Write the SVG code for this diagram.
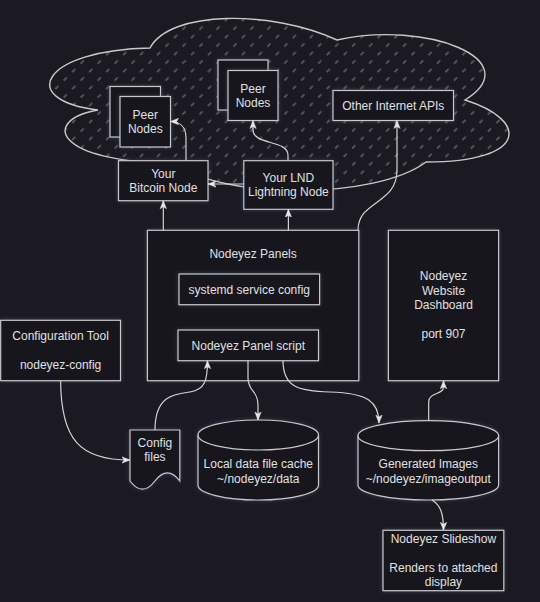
<svg xmlns="http://www.w3.org/2000/svg" width="540" height="602" viewBox="0 0 540 602">
<defs>
<style>
.bg{fill:#1b1922}
.n{fill:#18171c;stroke:#c8c8c8;stroke-width:1.2;filter:url(#glow)}
.t{font-family:"Liberation Sans",Arial,Helvetica,sans-serif;font-size:12px;fill:#e0e0e0;text-anchor:middle}
.e{fill:none;stroke:#d2d2d2;stroke-width:1.2;marker-end:url(#arr)}
.cloud{fill:url(#hatch);stroke:#c8c8c8;stroke-width:1.4}
</style>
<pattern id="hatch" patternUnits="userSpaceOnUse" width="12" height="12" patternTransform="rotate(-45)">
<rect width="12" height="12" fill="#1b1922"/>
<line x1="0" y1="6" x2="4.5" y2="6" stroke="#8a8a8a" stroke-width="1"/>
</pattern>
<marker id="arr" viewBox="0 0 10 10" refX="10" refY="5" markerWidth="8" markerHeight="8" markerUnits="userSpaceOnUse" orient="auto">
<path d="M0,1 L10,5 L0,9 L2.5,5 Z" fill="#e6e6e6" stroke="#e6e6e6" stroke-width="0.6"/>
</marker>
<filter id="glow" x="-20%" y="-20%" width="140%" height="140%">
<feDropShadow dx="0" dy="0" stdDeviation="2" flood-color="#5a6a9a" flood-opacity="0.45"/>
</filter>
</defs>
<rect class="bg" x="0" y="0" width="540" height="602"/>

<g id="internet-cloud">
<path class="cloud" d="M150,48 C42,50 16,100 98,110 C40,120 55,163 175,163 C221,200 375,200 426,162 C529,162 529,120 465,100 C529,60 426,20 337,40 C272,10 170,10 150,48 Z"/>
</g>

<g id="peer-nodes-bitcoin">
<rect class="n" x="110" y="86.5" width="50.5" height="50.5"/>
<rect class="n" x="120" y="96.5" width="50.5" height="50.5"/>
<text class="t" x="145.3" y="118.5">Peer</text>
<text class="t" x="145.3" y="132.9">Nodes</text>
</g>

<g id="peer-nodes-lightning">
<rect class="n" x="218" y="60" width="50" height="50"/>
<rect class="n" x="228" y="70.5" width="50" height="50"/>
<text class="t" x="253" y="92.5">Peer</text>
<text class="t" x="253" y="106.9">Nodes</text>
</g>

<g id="other-internet-apis">
<rect class="n" x="333" y="90.5" width="120.5" height="30"/>
<text class="t" x="393.3" y="109.7">Other Internet APIs</text>
</g>

<g id="bitcoin-node">
<rect class="n" x="118.5" y="160.7" width="89.5" height="40"/>
<text class="t" x="163.3" y="178">Your</text>
<text class="t" x="163.3" y="192.4">Bitcoin Node</text>
</g>

<g id="lnd-node">
<rect class="n" x="243.8" y="160.7" width="89.2" height="48.6"/>
<text class="t" x="288.4" y="182">Your LND</text>
<text class="t" x="288.4" y="196.4">Lightning Node</text>
</g>

<g id="nodeyez-panels">
<rect class="n" x="147.4" y="230.3" width="211.4" height="150.4"/>
<text class="t" x="253.1" y="257.5">Nodeyez Panels</text>
</g>

<g id="systemd-config">
<rect class="n" x="179" y="274" width="140.6" height="30.7"/>
<text class="t" x="249.3" y="293.6">systemd service config</text>
</g>

<g id="panel-script">
<rect class="n" x="178" y="330" width="140.5" height="30.7"/>
<text class="t" x="248.3" y="349.6">Nodeyez Panel script</text>
</g>

<g id="website-dashboard">
<rect class="n" x="388.4" y="230.3" width="110.2" height="150.4"/>
<text class="t" x="443.5" y="280.4">Nodeyez</text>
<text class="t" x="443.5" y="294.8">Website</text>
<text class="t" x="443.5" y="309.2">Dashboard</text>
<text class="t" x="443.5" y="338">port 907</text>
</g>

<g id="configuration-tool">
<rect class="n" x="0.7" y="320.3" width="119.8" height="60.4"/>
<text class="t" x="60.6" y="340.1">Configuration Tool</text>
<text class="t" x="60.6" y="368.9">nodeyez-config</text>
</g>

<g id="config-files">
<path class="n" d="M130,430 L179.8,430 L179.8,481 Q167.4,464.8 154.9,481 Q142.5,497.2 130,481 Z"/>
<text class="t" x="154.9" y="446.5">Config</text>
<text class="t" x="154.9" y="460.9">files</text>
</g>

<g id="local-data-cache">
<path class="n" d="M198,435 A60.25,15 0 0 1 318.5,435 L318.5,485 A60.25,15 0 0 1 198,485 Z"/>
<path d="M198,435 A60.25,15 0 0 0 318.5,435" fill="none" stroke="#c8c8c8" stroke-width="1.2"/>
<text class="t" x="258.3" y="468.2">Local data file cache</text>
<text class="t" x="258.3" y="482.6">~/nodeyez/data</text>
</g>

<g id="generated-images">
<path class="n" d="M358,435.7 A70.3,15 0 0 1 498.6,435.7 L498.6,485 A70.3,15 0 0 1 358,485 Z"/>
<path d="M358,435.7 A70.3,15 0 0 0 498.6,435.7" fill="none" stroke="#c8c8c8" stroke-width="1.2"/>
<text class="t" x="428.3" y="468.2">Generated Images</text>
<text class="t" x="428.3" y="482.6">~/nodeyez/imageoutput</text>
</g>

<g id="nodeyez-slideshow">
<rect class="n" x="383" y="530.3" width="120.8" height="60.4"/>
<text class="t" x="443.4" y="543.1">Nodeyez Slideshow</text>
<text class="t" x="443.4" y="571.9">Renders to attached</text>
<text class="t" x="443.4" y="586.3">display</text>
</g>

<g id="connectors">
<path class="e" d="M186,160.7 L186,138 C186,127 180,121.5 170.5,121.5"/>
<path class="e" d="M288,160.7 L288,155 C288,140 253,145 253,130 L253,120.5"/>
<path class="e" d="M243.8,184 L208,184"/>
<path class="e" d="M163.3,230.3 L163.3,200.7"/>
<path class="e" d="M288.4,230.3 L288.4,209.3"/>
<path class="e" d="M358,230.3 C358,200 397,205 397,170 L397,120.5"/>
<path class="e" d="M155,430 C155,395 175,394 190,392 C205,390 207.5,380 207.5,360.7"/>
<path class="e" d="M248,360.7 L248,378 C248,392 258,390 258,405 L258,420"/>
<path class="e" d="M283,360.7 C283,388 300,391 330,392 C368,393 379,402 379,423"/>
<path class="e" d="M428.7,420.7 L428.7,402 C428.7,392 443.5,395 443.5,387 L443.5,380.7"/>
<path class="e" d="M432,500 C440,505 443.5,512 443.5,530.3"/>
<path class="e" d="M60.6,380.7 C61,440 80,460 130,460"/>
</g>
</svg>
